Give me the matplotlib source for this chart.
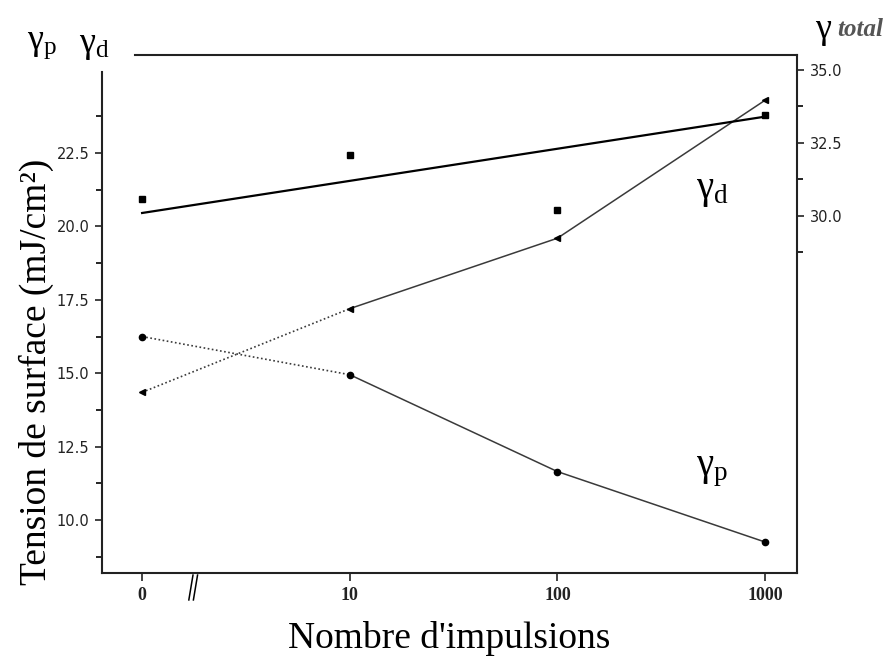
import numpy as np
import matplotlib
matplotlib.use("Agg")
import matplotlib.pyplot as plt
import matplotlib.transforms as mtransforms

plt.rcParams['mathtext.fontset'] = 'custom'
plt.rcParams['mathtext.rm'] = 'Liberation Serif'
plt.rcParams['mathtext.it'] = 'Liberation Serif:italic'

# data
categories = ['0', '10', '100', '1000']
gamma_p = [16.25, 14.95, 11.65, 9.25]
gamma_d = [14.35, 17.2, 19.6, 24.3]
gamma_total = [30.58, 32.09, 30.21, 33.46]
total_fit = [30.1, 33.4]          # straight line drawn through gamma_total (right axis)

pos = np.arange(len(categories))

fig = plt.figure(figsize=(8.88, 6.59), dpi=100)
ax = fig.add_axes([0.1149, 0.1305, 0.7827, 0.786])
ax2 = ax.twinx()

lc = '#3a3a3a'
# dotted part across the axis break, solid after
ax.plot(pos[:2], gamma_p[:2], ls=(0, (1, 1.5)), color=lc, lw=1.2)
ax.plot(pos[1:], gamma_p[1:], ls='-', color=lc, lw=1.1)
ax.plot(pos, gamma_p, ls='none', marker='o', ms=4.5, color='black')
ax.plot(pos[:2], gamma_d[:2], ls=(0, (1, 1.5)), color=lc, lw=1.2)
ax.plot(pos[1:], gamma_d[1:], ls='-', color=lc, lw=1.1)
ax.plot(pos, gamma_d, ls='none', marker='<', ms=5, color='black')

ax2.plot(pos, gamma_total, ls='none', marker='s', ms=5, color='black')
ax2.plot([pos[0], pos[-1]], total_fit, color='black', lw=1.6)

ax.set_xlim(-0.193, 3.154)
ax.set_ylim(8.195, 25.84)
ax2.set_ylim(17.77, 35.51)

ax.set_xticks(pos)
ax.set_xticklabels(categories, fontfamily='Liberation Serif', fontweight='bold', fontsize=13)
ax.set_yticks([10.0, 12.5, 15.0, 17.5, 20.0, 22.5])
ax.set_yticklabels(['10.0', '12.5', '15.0', '17.5', '20.0', '22.5'], fontsize=10.5)
ax.set_yticks(np.arange(8.75, 24.5, 2.5), minor=True)
ax2.set_yticks([30.0, 32.5, 35.0])
ax2.set_yticklabels(['30.0', '32.5', '35.0'], fontsize=10.5)
ax2.set_yticks([28.75, 31.25, 33.75], minor=True)

for a in (ax, ax2):
    a.tick_params(which='major', direction='out', length=5, width=1.2, pad=4, colors='#222222')
    a.tick_params(which='minor', direction='out', length=4, width=1.2)
    for s in a.spines.values():
        s.set_linewidth(1.5)
        s.set_color('#222222')
ax.tick_params(axis='x', length=6)

ax2.spines['left'].set_visible(False)
ax2.spines['bottom'].set_visible(False)
ax2.spines['top'].set_visible(False)
ax.spines['right'].set_visible(False)
ax.spines['left'].set_bounds(8.195, 25.26)
ax.spines['top'].set_bounds(-0.034, 3.154)

# axis break marks "//" below the x axis
trans = mtransforms.blended_transform_factory(ax.transData, ax.transAxes)
for dx in (0.0, 0.022):
    ax.plot([0.225 + dx, 0.245 + dx], [-0.052, -0.004], color='black', lw=1.1,
            transform=trans, clip_on=False)

ax.set_xlabel("Nombre d'impulsions", fontfamily='Liberation Serif', fontsize=27, labelpad=12)
fig.text(36 / 888, 1 - 372 / 659, 'Tension de surface (mJ/cm²)', rotation=90,
         fontfamily='Liberation Serif', fontsize=27, ha='center', va='center')

fig.text(42 / 888, 1 - 44 / 659, r'$\mathrm{γ_p}$', fontsize=26, ha='center', va='center')
fig.text(94 / 888, 1 - 45 / 659, r'$\mathrm{γ_d}$', fontsize=26, ha='center', va='center')
fig.text(823 / 888, 1 - 30 / 659, 'γ', fontfamily='Liberation Serif', fontsize=26,
         ha='center', va='center')
fig.text(837 / 888, 1 - 29 / 659, 'total', fontfamily='Liberation Serif', fontsize=18,
         fontstyle='italic', fontweight='bold', color='#555555', ha='left', va='center')

fig.text(712 / 888, 1 - 190 / 659, r'$\mathrm{γ_d}$', fontsize=28, ha='center', va='center')
fig.text(712 / 888, 1 - 470 / 659, r'$\mathrm{γ_p}$', fontsize=28, ha='center', va='center')

fig.savefig('out.png', dpi=100)
